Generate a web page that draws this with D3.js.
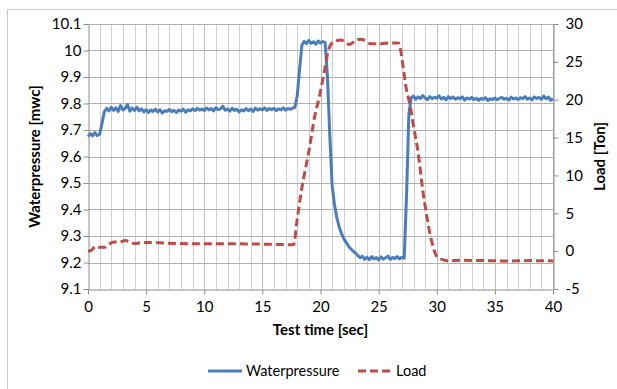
<!DOCTYPE html>
<html>
<head>
<meta charset="utf-8">
<script src="https://cdn.jsdelivr.net/npm/d3@7"></script>
<style>
  body { margin: 0; background: #fff; }
  svg { display: block; font-family: Lato, "Liberation Sans", sans-serif; }
</style>
</head>
<body>
<svg id="chart"></svg>
<script>
// waterpressure sampled every 0.2 s from 0 to 40 s
const pressureStep = 0.2;
const pressure = [
  9.675, 9.686, 9.678, 9.690, 9.679,
  9.684, 9.725, 9.768, 9.782, 9.772,
  9.786, 9.774, 9.784, 9.770, 9.792,
  9.776, 9.781, 9.796, 9.771, 9.783,
  9.774, 9.786, 9.772, 9.780, 9.768,
  9.777, 9.766, 9.775, 9.770, 9.779,
  9.768, 9.776, 9.764, 9.773, 9.770,
  9.778, 9.769, 9.774, 9.766, 9.775,
  9.771, 9.779, 9.767, 9.776, 9.772,
  9.780, 9.773, 9.782, 9.775, 9.779,
  9.774, 9.783, 9.776, 9.781, 9.772,
  9.784, 9.777, 9.780, 9.790, 9.775,
  9.779, 9.771, 9.782, 9.774, 9.779,
  9.768, 9.776, 9.772, 9.781, 9.773,
  9.779, 9.770, 9.783, 9.775, 9.780,
  9.776, 9.784, 9.774, 9.781, 9.777,
  9.782, 9.773, 9.780, 9.776, 9.784,
  9.775, 9.781, 9.778, 9.783, 9.786,
  9.830, 9.930, 10.020, 10.035, 10.026,
  10.038, 10.027, 10.033, 10.024, 10.036,
  10.028, 10.034, 10.030, 9.900, 9.680,
  9.490, 9.420, 9.370, 9.335, 9.310,
  9.290, 9.277, 9.262, 9.252, 9.243,
  9.236, 9.226, 9.218, 9.224, 9.212,
  9.220, 9.211, 9.222, 9.214, 9.219,
  9.210, 9.221, 9.213, 9.218, 9.224,
  9.212, 9.219, 9.215, 9.222, 9.213,
  9.220, 9.216, 9.450, 9.760, 9.822,
  9.828, 9.816, 9.825, 9.819, 9.830,
  9.821, 9.815, 9.826, 9.818, 9.824,
  9.820, 9.829, 9.817, 9.823, 9.814,
  9.826, 9.819, 9.824, 9.816, 9.822,
  9.818, 9.825, 9.813, 9.821, 9.817,
  9.823, 9.815, 9.820, 9.812, 9.819,
  9.816, 9.822, 9.811, 9.818, 9.815,
  9.821, 9.814, 9.819, 9.823, 9.816,
  9.820, 9.813, 9.824, 9.817, 9.821,
  9.815, 9.822, 9.818, 9.826, 9.816,
  9.821, 9.814, 9.825, 9.819, 9.823,
  9.816, 9.828, 9.818, 9.824, 9.812,
  9.818
];

// load, irregular time stamps
const loadTime = [0, 0.3, 0.6, 1.0, 1.4, 1.8, 2.2, 2.7, 3.2, 3.6, 4.0, 4.5, 5, 6, 8, 10, 12, 14, 16, 17.5, 17.7,
  17.95, 18.36, 19.07, 19.5, 19.9, 20.36, 20.65, 20.94, 21.4, 21.8, 22.2, 22.5, 23.0, 23.4, 24.0, 24.3, 25.2, 26.0, 26.7,
  26.9, 27.1, 27.4, 27.7, 28.0, 28.4, 28.8, 29.1, 29.4, 29.7, 30.0, 30.3, 30.6, 31, 32, 34, 36, 38, 40];
const loadValue = [0, 0.1, 0.6, 0.5, 0.5, 0.9, 1.2, 1.2, 1.4, 1.2, 1.0, 1.1, 1.15, 1.1, 1.0, 0.97, 0.97, 0.95, 0.9, 0.85, 0.9,
  3.7, 8.0, 13.8, 17.8, 20.4, 24.0, 26.4, 27.4, 27.8, 27.9, 27.5, 27.3, 27.8, 28.0, 27.7, 27.4, 27.4, 27.5, 27.5,
  26.5, 24.4, 21.3, 19.3, 16.5, 13.0, 8.0, 5.0, 2.4, 0.5, -0.7, -1.0, -1.15, -1.3, -1.2, -1.25, -1.3, -1.25, -1.3];

const xTicks = [0, 5, 10, 15, 20, 25, 30, 35, 40];
const leftTicks = [9.1, 9.2, 9.3, 9.4, 9.5, 9.6, 9.7, 9.8, 9.9, 10, 10.1];
const rightTicks = [-5, 0, 5, 10, 15, 20, 25, 30];

const W = 617, H = 389;
const plot = {left: 88, right: 553, top: 24, bottom: 289};
const fontSize = 15;

const svg = d3.select('#chart').attr('width', W).attr('height', H);

// outer chart frame (right and bottom edges fall outside the picture)
svg.append('rect')
  .attr('x', 7.5).attr('y', 9.5)
  .attr('width', 640).attr('height', 400)
  .attr('fill', '#fff').attr('stroke', '#c8c8c8');

const x = d3.scaleLinear().domain([0, 40]).range([plot.left, plot.right]);
const yL = d3.scaleLinear().domain([9.1, 10.1]).range([plot.bottom, plot.top]);
const yR = d3.scaleLinear().domain([-5, 30]).range([plot.bottom, plot.top]);

// vertical grid every second
svg.append('g')
  .selectAll('line')
  .data(d3.range(1, 41))
  .join('line')
  .attr('x1', d => Math.round(x(d)) + 0.5).attr('x2', d => Math.round(x(d)) + 0.5)
  .attr('y1', plot.top).attr('y2', plot.bottom)
  .attr('stroke', d => d % 5 === 0 ? '#bdbdbd' : '#d0d0d0');

// horizontal grid
svg.append('g')
  .selectAll('line')
  .data(leftTicks.slice(1))
  .join('line')
  .attr('x1', plot.left).attr('x2', plot.right)
  .attr('y1', d => Math.round(yL(d)) + 0.5).attr('y2', d => Math.round(yL(d)) + 0.5)
  .attr('stroke', '#b0b0b0');

const axisColor = '#8c8c8c';
const tickFont = g => {
  g.select('.domain').attr('stroke', axisColor);
  g.selectAll('.tick line').attr('stroke', axisColor);
  g.selectAll('.tick text').attr('fill', '#000').attr('font-size', fontSize).attr('font-family', 'Lato, sans-serif');
};
const plain = d => String(d);

svg.append('g')
  .attr('transform', `translate(${plot.left + 0.5},0)`)
  .call(d3.axisLeft(yL).tickValues(leftTicks).tickFormat(plain).tickSize(5).tickSizeOuter(0).tickPadding(2))
  .call(tickFont);

svg.append('g')
  .attr('transform', `translate(${plot.right + 0.5},0)`)
  .call(d3.axisRight(yR).tickValues(rightTicks).tickFormat(plain).tickSize(5).tickSizeOuter(0).tickPadding(7))
  .call(tickFont);

svg.append('g')
  .attr('transform', `translate(0,${plot.bottom + 0.5})`)
  .call(d3.axisBottom(x).tickValues(xTicks).tickFormat(plain).tickSize(5).tickSizeOuter(0).tickPadding(7))
  .call(tickFont);

// series
const pressureLine = d3.line()
  .x((d, i) => x(i * pressureStep))
  .y(d => yL(d));

svg.append('path')
  .datum(pressure)
  .attr('d', pressureLine)
  .attr('fill', 'none')
  .attr('stroke', '#4a7ebb')
  .attr('stroke-width', 3)
  .attr('stroke-linejoin', 'round');

const loadLine = d3.line()
  .x((d, i) => x(loadTime[i]))
  .y(d => yR(d))
  .curve(d3.curveMonotoneX);

svg.append('path')
  .datum(loadValue)
  .attr('d', loadLine)
  .attr('fill', 'none')
  .attr('stroke', '#be4b48')
  .attr('stroke-width', 3)
  .attr('stroke-dasharray', '8,4');

// axis titles
svg.append('text')
  .attr('transform', `translate(40,${(plot.top + plot.bottom) / 2}) rotate(-90)`)
  .attr('text-anchor', 'middle')
  .attr('font-size', fontSize).attr('font-weight', 'bold')
  .text('Waterpressure [mwc]');

svg.append('text')
  .attr('transform', `translate(605,${(plot.top + plot.bottom) / 2}) rotate(-90)`)
  .attr('text-anchor', 'middle')
  .attr('font-size', fontSize).attr('font-weight', 'bold')
  .text('Load [Ton]');

svg.append('text')
  .attr('x', (plot.left + plot.right) / 2).attr('y', 335)
  .attr('text-anchor', 'middle')
  .attr('font-size', fontSize).attr('font-weight', 'bold')
  .text('Test time [sec]');

// legend
const legend = svg.append('g').attr('font-size', 14.5);
legend.append('line')
  .attr('x1', 208).attr('x2', 242).attr('y1', 371).attr('y2', 371)
  .attr('stroke', '#4a7ebb').attr('stroke-width', 3);
legend.append('text').attr('x', 246).attr('y', 376).text('Waterpressure');
legend.append('line')
  .attr('x1', 358).attr('x2', 390).attr('y1', 371).attr('y2', 371)
  .attr('stroke', '#be4b48').attr('stroke-width', 3).attr('stroke-dasharray', '8,4');
legend.append('text').attr('x', 396).attr('y', 376).text('Load');
</script>
</body>
</html>
